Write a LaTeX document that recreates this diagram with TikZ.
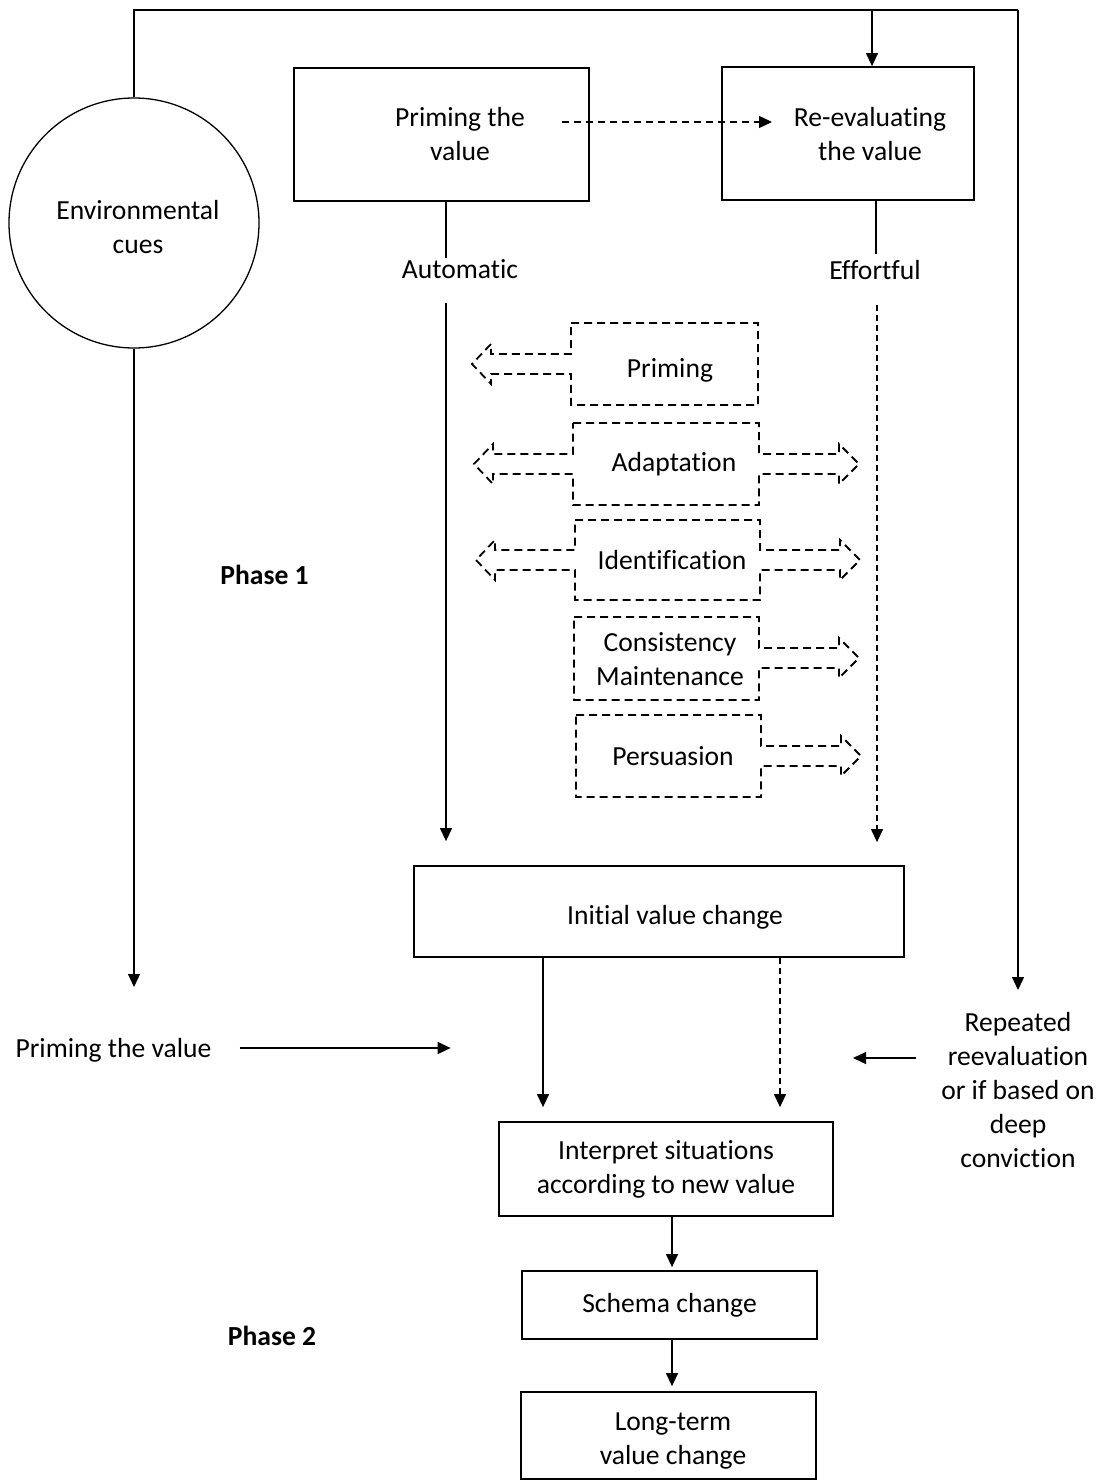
\documentclass[tikz,border=0pt]{standalone}
\usepackage{fontspec}
\setmainfont{Carlito}[RawFeature={-liga;-dlig;-clig}]
\usetikzlibrary{arrows.meta,calc}
\begin{document}
\begin{tikzpicture}[x=1bp,y=-1bp,
  every node/.style={font=\fontsize{27.6bp}{34bp}\selectfont, inner sep=0pt, align=center},
  conn/.style={line width=1.3bp},
  arr/.style={conn, -{Triangle[length=13bp,width=12bp]}},
  darr/.style={arr, dash pattern=on 6bp off 4bp},
  box/.style={draw, line width=1.8bp, rectangle},
  dbox/.style={line width=1.8bp, dash pattern=on 8bp off 5bp, line join=miter}]
\useasboundingbox (0,0) rectangle (1101,1481);

% boxes
\node[box, minimum width=295bp, minimum height=133bp] (prime) at (441.5,134.5) {};
\node (primet) at (460,134) {Priming the\\value};
\node[box, minimum width=252bp, minimum height=133bp] (reeval) at (848,133.5) {};
\node (reevalt) at (870,134) {Re-evaluating\\the value};
\node[draw, circle, line width=1.3bp, minimum size=250bp] (env) at (134,223) {};
\node (envt) at (138,227) {Environmental\\cues};

\node (auto) at (460,269) {Automatic};
\node (effort) at (875,270) {Effortful};
\node (ph1) at (264.5,575) {\bfseries Phase 1};
\node (ph2) at (272,1336) {\bfseries Phase 2};

\node[box, minimum width=490bp, minimum height=91bp] (init) at (659,911.5) {};
\node (initt) at (675,917) {Initial value change};
\node[box, minimum width=334bp, minimum height=94bp] (interp) at (666,1169) {Interpret situations\\according to new value};
\node[box, minimum width=295bp, minimum height=68bp] (schema) at (669.5,1305) {Schema change};
\node[box, minimum width=295bp, minimum height=87bp] (long) at (668.5,1435.5) {};
\node (longt) at (673,1441) {Long-term\\value change};

\node (ptv) at (113.5,1050) {Priming the value};
\node (rep) at (1018,1090) {Repeated\\reevaluation\\or if based on\\deep\\conviction};

% dashed block shapes
\node (d1) at (670,370) {Priming};
\node (d2) at (674,464) {Adaptation};
\node (d3) at (672,560) {Identification};
\node (d4) at (670,659) {Consistency\\Maintenance};
\node (d5) at (673,756) {Persuasion};

\draw[dbox] (571,323) -- (758,323) -- (758,405) -- (571,405) -- (571,374) -- (491,374) -- (491,384) -- (472,364) -- (491,344) -- (491,354) -- (571,354) -- cycle;
\draw[dbox] (573,423) -- (759,423) -- (759,454) -- (839,454) -- (839,444) -- (859,464) -- (839,484) -- (839,474) -- (759,474) -- (759,505) -- (573,505) -- (573,474) -- (493,474) -- (493,484) -- (474,464) -- (493,444) -- (493,454) -- (573,454) -- cycle;
\draw[dbox] (575,520) -- (760,520) -- (760,550) -- (840,550) -- (840,540) -- (860,560) -- (840,580) -- (840,570) -- (760,570) -- (760,600) -- (575,600) -- (575,570) -- (495,570) -- (495,580) -- (476,560) -- (495,540) -- (495,550) -- (575,550) -- cycle;
\draw[dbox] (574,617) -- (759,617) -- (759,648) -- (839,648) -- (839,638) -- (859,658) -- (839,678) -- (839,668) -- (759,668) -- (759,700) -- (574,700) -- cycle;
\draw[dbox] (576,715) -- (761,715) -- (761,746) -- (841,746) -- (841,736) -- (861,756) -- (841,776) -- (841,766) -- (761,766) -- (761,797) -- (576,797) -- cycle;

% connectors
\coordinate (tr) at (1018,10);
\coordinate (repin) at (1018,990);
\coordinate (tb) at (872,10);
\draw[conn] (env.north) |- (tr);
\draw[arr] (tr) -- (repin);
\draw[arr] (tb) -- (tb |- reeval.north);
\coordinate (ds) at (562,122);
\coordinate (de) at (772,122);
\draw[arr, dash pattern=on 7bp off 5bp] (ds) -- (de);

\coordinate (ax) at (446,258);
\draw[conn] (prime.south -| ax) -- (ax);
\coordinate (ay) at (446,303);
\draw[arr, shorten >=24bp] (ay) -- (ay |- init.north);

\coordinate (ex) at (876,254);
\draw[conn] (reeval.south -| ex) -- (ex);
\coordinate (ey) at (877,305);
\draw[darr, shorten >=23bp] (ey) -- (ey |- init.north);

\coordinate (envend) at (134,987);
\draw[arr] (env.south) -- (envend);

\draw[arr] ([xshift=28bp,yshift=2bp]ptv.east) -- ++(211,0);

\coordinate (s1) at (543,0);
\coordinate (s2) at (780,0);
\draw[arr, shorten >=14bp] (init.south -| s1) -- (interp.north -| s1);
\draw[darr, shorten >=14bp] (init.south -| s2) -- (interp.north -| s2);

\coordinate (h1) at (916,1058);
\coordinate (h2) at (853,1058);
\draw[arr] (h1) -- (h2);

\coordinate (cx) at (672,0);
\draw[arr, shorten >=3bp] (interp.south -| cx) -- (schema.north -| cx);
\draw[arr, shorten >=5bp] (schema.south -| cx) -- (long.north -| cx);
\end{tikzpicture}
\end{document}
